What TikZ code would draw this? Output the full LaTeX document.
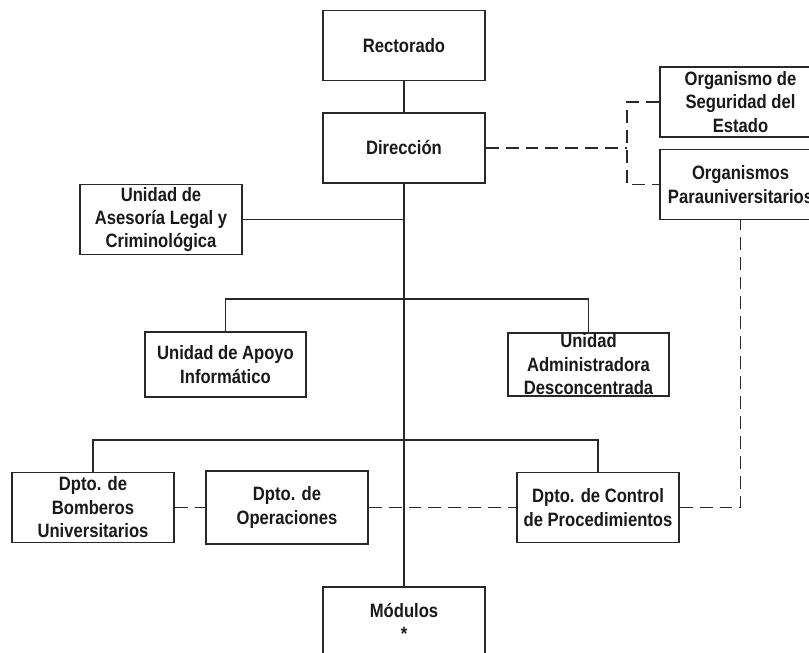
\documentclass[tikz,border=0pt]{standalone}
\usepackage{xcolor}
\usepackage{tikz}
\usepackage{fontspec}
\setmainfont{Liberation Sans}[FakeStretch=0.86]
\definecolor{lineagris}{RGB}{40, 40, 40}
\definecolor{textogris}{RGB}{25, 25, 25}
\usetikzlibrary{positioning, calc}

\begin{document}
\begin{tikzpicture}[
    x=0.03cm, y=-0.03cm,
    unidad/.style={rectangle, draw=lineagris, line width=1.5pt, minimum width=4.85cm, minimum height=2.1cm, inner sep=0pt, align=center, text=textogris, font=\fontsize{16.5}{20}\selectfont\bfseries},
    enlace/.style={draw=lineagris, line width=1.4pt},
    coordina/.style={draw=lineagris, line width=1.4pt, dash pattern=on 11pt off 6pt}
]
    \useasboundingbox (0,0) rectangle (809,653);
    \clip (0,0) rectangle (809,653);

    \node[unidad] (rectorado) at (404, 45.5) {Rectorado};
    \node[unidad] (direccion) at (404, 148) {Dirección};
    \node[unidad] (seguridad) at (740.5, 102) {Organismo de\\Seguridad del\\Estado};
    \node[unidad] (parauniv) at (740.5, 184.5) {Organismos\\Parauniversitarios};
    \node[unidad] (asesoria) at (161, 219.5) {Unidad de\\Asesoría Legal y\\Criminológica};
    \node[unidad, minimum height=1.95cm] (apoyo) at (225.5, 364.5) {Unidad de Apoyo\\Informático};
    \node[unidad, minimum height=1.89cm] (admin) at (588.5, 364.5) {Unidad\\Administradora\\Desconcentrada};
    \node[unidad] (bomberos) at (93, 507.5) {Dpto. de\\Bomberos\\Universitarios};
    \node[unidad, minimum height=2.19cm] (operaciones) at (287, 507.5) {Dpto. de\\Operaciones};
    \node[unidad] (control) at (598, 507.5) {Dpto. de Control\\de Procedimientos};
    \node[unidad] (modulos) at (404, 622) {Módulos\\*};

    \coordinate (rama) at (627, 148);
    \coordinate (nivel2) at (404, 299);
    \coordinate (nivel3) at (404, 440);

    \draw[enlace] (rectorado) -- (direccion);
    \draw[enlace] (direccion) -- (modulos);
    \draw[enlace] (asesoria.east) -- (asesoria.east -| direccion.south);
    \draw[enlace] (apoyo.north) |- (nivel2) -| (admin.north);
    \draw[enlace] (bomberos.north) |- (nivel3) -| (control.north);

    \draw[coordina] (direccion.east) -- (rama);
    \draw[coordina] (seguridad.west) -| (rama) |- (parauniv.west);
    \draw[coordina] (bomberos.east) -- (operaciones.west);
    \draw[coordina] (operaciones.east) -- (control.west);
    \draw[coordina] (control.east) -| (parauniv.south);
\end{tikzpicture}
\end{document}
